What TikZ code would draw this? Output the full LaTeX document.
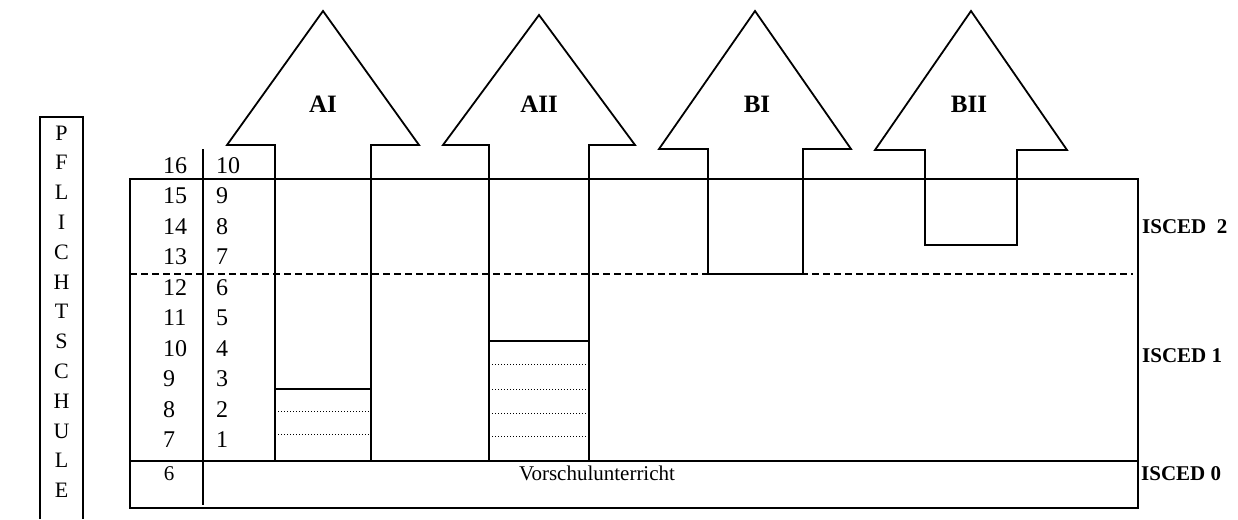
\documentclass[tikz,border=0pt]{standalone}
\usepackage{fontspec}
\setmainfont{Liberation Serif}
\begin{document}
\begin{tikzpicture}[x=1pt,y=-1pt,
  frame/.style={line width=2.6pt},
  arr/.style={line width=1.8pt, line join=miter},
  num/.style={font=\fontsize{24}{24}\selectfont, anchor=base west, inner sep=0pt},
  small/.style={font=\fontsize{21}{21}\selectfont, anchor=base, inner sep=0pt},
  lab/.style={font=\fontsize{25}{25}\selectfont\bfseries, anchor=base, inner sep=0pt},
  isced/.style={font=\fontsize{21}{21}\selectfont\bfseries, anchor=base west, inner sep=0pt},
  letter/.style={font=\fontsize{22}{22}\selectfont, anchor=base, inner sep=0pt},
  dots/.style={line width=1pt, dash pattern=on 1pt off 2pt}]
\useasboundingbox (0,0) rectangle (1238,519);
% PFLICHTSCHULE box
\coordinate (pbtl) at (40,117);
\coordinate (pbtr) at (83,117);
\draw[frame] (40,519) -- (pbtl) -- (pbtr) -- (83,519);
\foreach \l [count=\i from 0] in {P,F,L,I,C,H,T,S,C,H,U,L,E}
  \node[letter] (p\i) at (61.5,{140+\i*29.8}) {\l};
% main frame
\coordinate (ftl) at (130,179);
\coordinate (fbr) at (1138,508);
\draw[frame] (ftl) rectangle (fbr);
\coordinate (i0l) at (130,461);
\coordinate (i0r) at (1138,461);
\draw[frame] (i0l) -- (i0r);
\coordinate (vt) at (203,149);
\coordinate (vb) at (203,505);
\draw[frame] (vt) -- (vb);
\coordinate (dl) at (130,274);
\coordinate (dr) at (1133,274);
\draw[line width=1.6pt, dash pattern=on 7pt off 4pt] (dl) -- (dr);
% numbers
\foreach \a/\b [count=\i from 0] in {16/10,15/9,14/8,13/7,12/6,11/5,10/4,9/3,8/2,7/1}{
  \node[num] (l\i) at (163,{173+\i*30.55}) {\a};
  \node[num] (r\i) at (216,{173+\i*30.55}) {\b};
}
\node[small] (six) at (169,480) {6};
\node[small] (vor) at (597,480) {Vorschulunterricht};
% arrows
\draw[arr] (275,461) -- (275,145) -- (227,145) -- (323,11) -- (419,145) -- (371,145) -- (371,461);
\draw[arr] (489,461) -- (489,145) -- (443,145) -- (539,15) -- (635,145) -- (589,145) -- (589,461);
\draw[arr] (708,274) -- (708,149) -- (659,149) -- (755,11) -- (851,149) -- (803,149) -- (803,274) -- cycle;
\draw[arr] (925,245) -- (925,150) -- (875,150) -- (971,11) -- (1067,150) -- (1017,150) -- (1017,245) -- cycle;
\node[lab] (ai) at (323,112) {AI};
\node[lab] (aii) at (539,112) {AII};
\node[lab] (bi) at (757,112) {BI};
\node[lab] (bii) at (969,112) {BII};
% inner lines
\draw[arr] (275,389) -- (371,389);
\draw[dots] (278,411) -- (369,411);
\draw[dots] (278,434) -- (369,434);
\draw[arr] (489,341) -- (589,341);
\foreach \y in {364,389,413,436} \draw[dots] (492,\y) -- (586,\y);
% ISCED
\node[isced] (is2) at (1142,233) {ISCED\ \ 2};
\node[isced] (is1) at (1142,362) {ISCED 1};
\node[isced] (is0) at (1141,480) {ISCED 0};
\end{tikzpicture}
\end{document}
